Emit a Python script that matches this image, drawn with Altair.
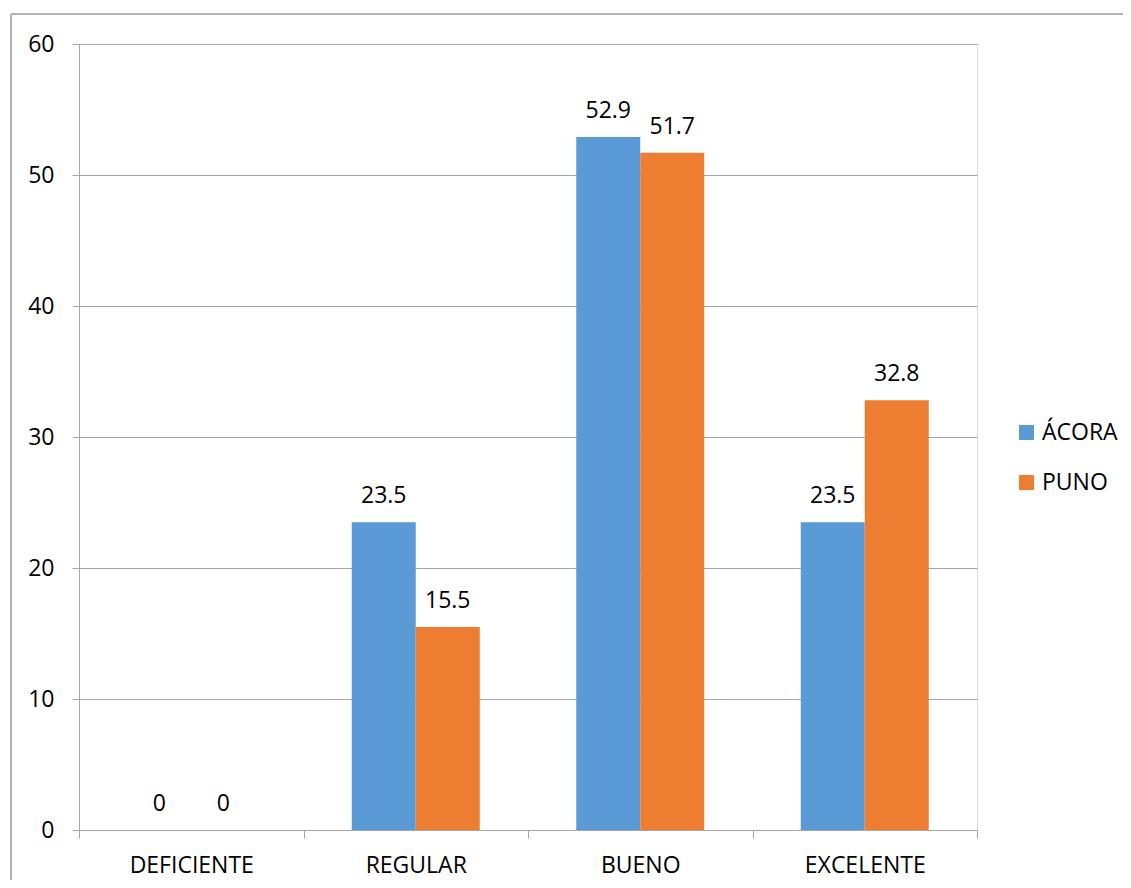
import altair as alt
import pandas as pd

categories = ["DEFICIENTE", "REGULAR", "BUENO", "EXCELENTE"]
series = ["ÁCORA", "PUNO"]
acora = [0, 23.5, 52.9, 23.5]
puno = [0, 15.5, 51.7, 32.8]
y_ticks = [0, 10, 20, 30, 40, 50, 60]

rows = []
for c, a, p in zip(categories, acora, puno):
    rows.append({"cat": c, "serie": series[0], "val": a, "lab": f"{a:g}"})
    rows.append({"cat": c, "serie": series[1], "val": p, "lab": f"{p:g}"})
df = pd.DataFrame(rows)

FONT = "Open Sans"
FS = 23
GRID = "#a6a6a6"

x_enc = alt.X("cat:N", sort=categories, title=None,
              scale=alt.Scale(paddingInner=0, paddingOuter=0),
              axis=alt.Axis(labelAngle=0, tickBand="extent", tickSize=8,
                            labelPadding=16, labelFontSize=FS, labelFont=FONT,
                            labelColor="#000000", domainColor=GRID, tickColor=GRID,
                            grid=False))
xo_enc = alt.XOffset("serie:N", sort=series, scale=alt.Scale(paddingInner=0, paddingOuter=0.754))
y_enc = alt.Y("val:Q", title=None,
              scale=alt.Scale(domain=[0, 60], nice=False),
              axis=alt.Axis(values=y_ticks, tickSize=7, labelPadding=18,
                            labelFontSize=FS, labelFont=FONT, labelColor="#000000",
                            domainColor=GRID, tickColor=GRID, gridColor=GRID,
                            grid=True, gridWidth=1))
color_enc = alt.Color("serie:N", sort=series,
                      scale=alt.Scale(domain=series, range=["#5B9BD5", "#ED7D31"]),
                      legend=alt.Legend(title=None, orient="none", legendX=936, legendY=377,
                                        symbolType="square", symbolSize=225,
                                        symbolStrokeWidth=0, labelFontSize=FS,
                                        labelFont=FONT, labelColor="#000000",
                                        labelOffset=4, rowPadding=26, padding=0))

base = alt.Chart(df)
bars = base.mark_bar().encode(x=x_enc, xOffset=xo_enc, y=y_enc, color=color_enc)
labels = base.mark_text(baseline="alphabetic", dy=-19, fontSize=FS, font=FONT,
                        color="#000000").encode(x=x_enc, xOffset=xo_enc, y=y_enc,
                                                text="lab:N")
border_v = base.mark_rule(color="#b3b3b3", strokeWidth=1.5).encode(
    x=alt.value(-68), y=alt.value(-30), y2=alt.value(900))
border_h = base.mark_rule(color="#b3b3b3", strokeWidth=1.5).encode(
    x=alt.value(-68), x2=alt.value(1100), y=alt.value(-30))

chart = alt.layer(border_v, border_h, bars, labels).properties(
    width=898, height=786,
    autosize=alt.AutoSizeParams(type="none"),
    padding={"left": 71, "top": 36, "right": 146, "bottom": 50},
).configure_view(stroke=None).configure(background="#ffffff")

chart.save("out.html", embed_options={"renderer": "svg", "actions": False})
